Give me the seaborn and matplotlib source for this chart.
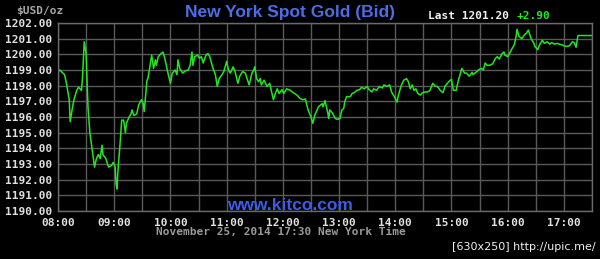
import matplotlib
matplotlib.use("Agg")
import matplotlib.pyplot as plt
import seaborn as sns
import pandas as pd
import numpy as np

times = ["08:00","08:02","08:07","08:09","08:12","08:13","08:15","08:17","08:20","08:22",
         "08:25","08:26","08:28","08:30","08:31","08:32","08:34","08:37","08:39","08:41",
         "08:43","08:45","08:47","08:48","08:51","08:54","08:57","08:59","09:01","09:02",
         "09:03","09:04","09:06","09:08","09:10","09:12","09:13","09:16","09:18","09:19",
         "09:21","09:24","09:26","09:29","09:31","09:32","09:34","09:35","09:36","09:38",
         "09:40","09:42","09:44","09:45","09:47","09:50","09:52","09:54","09:57","10:00",
         "10:02","10:05","10:07","10:08","10:10","10:13","10:16","10:19","10:21","10:23",
         "10:24","10:26","10:29","10:31","10:33","10:35","10:38","10:40","10:42","10:45",
         "10:48","10:50","10:52","10:55","10:57","11:00","11:02","11:04","11:07","11:09",
         "11:12","11:14","11:17","11:20","11:21","11:24","11:27","11:29","11:30","11:32",
         "11:34","11:36","11:37","11:40","11:43","11:46","11:48","11:50","11:52","11:54",
         "11:56","11:59","12:01","12:04","12:08","12:10","12:15","12:18","12:21","12:24",
         "12:27","12:30","12:32","12:34","12:38","12:42","12:43","12:45","12:48","12:49",
         "12:50","12:53","12:56","12:58","13:01","13:03","13:05","13:06","13:08","13:12",
         "13:14","13:16","13:19","13:22","13:24","13:27","13:30","13:32","13:35","13:37",
         "13:40","13:43","13:46","13:48","13:51","13:54","13:56","13:59","14:02","14:03",
         "14:06","14:09","14:12","14:14","14:16","14:18","14:20","14:22","14:24","14:27",
         "14:29","14:32","14:35","14:37","14:40","14:43","14:45","14:48","14:51","14:53",
         "14:57","15:00","15:02","15:05","15:07","15:11","15:14","15:16","15:19","15:22",
         "15:23","15:27","15:30","15:32","15:34","15:36","15:38","15:41","15:44","15:47",
         "15:49","15:51","15:54","15:56","15:57","16:00","16:02","16:04","16:07","16:09",
         "16:10","16:12","16:15","16:18","16:20","16:22","16:25","16:28","16:29","16:32",
         "16:34","16:37","16:39","16:42","16:45","16:47","16:50","16:53","16:55","16:58",
         "17:00","17:03","17:06","17:09","17:11","17:13","17:15","17:17","17:30"]

prices = [1198.9,1199.0,1198.7,1198.15,1197.1,1195.7,1196.45,1197.1,1197.7,1197.9,
          1197.7,1198.35,1200.8,1200.05,1198.35,1196.65,1195.0,1193.7,1192.8,1193.35,
          1193.6,1193.35,1194.2,1193.6,1193.35,1192.8,1192.9,1193.1,1192.8,1191.75,
          1191.4,1192.6,1194.1,1195.8,1195.8,1195.0,1195.6,1196.0,1196.2,1196.45,
          1196.1,1196.2,1196.75,1197.1,1196.85,1196.35,1197.7,1198.35,1198.45,1199.2,
          1199.95,1199.1,1199.65,1199.3,1199.85,1200.05,1200.15,1199.75,1198.9,1198.15,
          1198.8,1199.0,1198.7,1199.65,1199.1,1198.8,1198.95,1199.0,1199.3,1200.15,
          1199.3,1199.85,1199.95,1199.75,1199.85,1199.45,1199.95,1200.05,1199.85,1199.2,
          1198.7,1197.95,1198.45,1198.7,1198.9,1199.55,1199.0,1198.8,1199.2,1198.9,
          1198.15,1198.6,1198.9,1198.8,1198.6,1198.05,1198.8,1199.0,1199.2,1198.45,
          1198.25,1198.45,1198.05,1198.35,1197.95,1198.15,1197.6,1197.1,1197.5,1197.8,
          1197.5,1197.75,1197.5,1197.8,1197.7,1197.6,1197.4,1197.2,1197.1,1197.15,
          1196.45,1196.0,1195.6,1196.1,1196.65,1196.85,1196.65,1197.05,1196.25,1195.9,
          1196.45,1196.25,1195.9,1195.85,1195.9,1196.45,1196.55,1196.95,1197.3,1197.3,
          1197.5,1197.55,1197.7,1197.75,1197.9,1197.8,1197.95,1197.75,1197.6,1197.8,
          1197.7,1197.95,1197.85,1198.05,1197.95,1198.05,1197.6,1197.3,1196.95,1197.3,
          1197.95,1198.35,1198.45,1198.25,1197.8,1198.05,1197.7,1197.8,1197.5,1197.4,
          1197.55,1197.6,1197.6,1197.7,1198.15,1197.95,1197.95,1197.7,1197.55,1197.95,
          1198.25,1198.4,1197.7,1197.7,1198.25,1199.1,1198.8,1198.8,1198.6,1198.85,
          1198.7,1198.9,1199.05,1199.1,1199.0,1199.45,1199.3,1199.3,1199.4,1199.75,
          1199.85,1199.7,1200.05,1200.15,1199.95,1199.85,1200.05,1200.3,1200.6,1201.15,
          1201.6,1201.15,1201.0,1201.25,1201.35,1201.55,1201.0,1200.7,1200.5,1200.3,
          1200.6,1200.9,1200.7,1200.8,1200.65,1200.75,1200.65,1200.7,1200.65,1200.6,
          1200.55,1200.5,1200.55,1200.8,1200.75,1200.45,1201.2,1201.2,1201.2]

x_tick_labels = ["08:00","09:00","10:00","11:00","12:00","13:00","14:00","15:00","16:00","17:00"]
y_ticks = [1190,1191,1192,1193,1194,1195,1196,1197,1198,1199,1200,1201,1202]

title = "New York Spot Gold (Bid)"
last_text = "Last 1201.20"
change_text = "+2.90"
unit_text = "$USD/oz"
site_text = "www.kitco.com"
footer_text = "November 25, 2014 17:30 New York Time"
credit_text = "[630x250] http://upic.me/"

def to_hours(s):
    h, m = s.split(":")
    return int(h) + int(m) / 60.0

df = pd.DataFrame({"t": [to_hours(t) for t in times], "price": prices})

sns.set_theme(style="dark")
plt.rcParams["font.family"] = ["DejaVu Sans"]

fig = plt.figure(figsize=(6.0, 2.59), dpi=100, facecolor="black")
ax = fig.add_axes([58/600, 1-211/259, (592-58)/600, (211-23)/259])
ax.set_facecolor("black")

sns.lineplot(data=df, x="t", y="price", ax=ax, color="#22e622", linewidth=1.1)

ax.set_xlim(8.0, 17.5)
ax.set_ylim(1190, 1202)
xt = [to_hours(s) for s in x_tick_labels]
ax.set_xticks(xt)
ax.set_xticklabels(x_tick_labels)
ax.set_xticks([v + 0.5 for v in xt], minor=True)
ax.set_yticks(y_ticks)
ax.set_yticklabels([f"{v:.2f}" for v in y_ticks])
ax.set_xlabel("")
ax.set_ylabel("")

ax.grid(True, which="both", color="#5a5a5a", linewidth=1.0)
ax.set_axisbelow(True)
for s in ax.spines.values():
    s.set_visible(True)
    s.set_color("#6a6a6a")
    s.set_linewidth(1.0)

mono = dict(family="DejaVu Sans Mono", weight="bold", size=8)
ax.tick_params(axis="both", which="both", length=0, colors="#e6e6e6")
ax.tick_params(axis="y", pad=4)
ax.tick_params(axis="x", pad=5)
for lab in ax.get_xticklabels() + ax.get_yticklabels():
    lab.set_fontfamily("DejaVu Sans Mono")
    lab.set_fontweight("bold")
    lab.set_fontsize(8)
    lab.set_color("#e0e0e0")

fig.text(40/600, 1-11/259, unit_text, ha="center", va="center", color="#a8a8a8", **mono)
fig.text(290/600, 1-12/259, title, ha="center", va="center", color="#4b6ee6",
         family="Liberation Sans", weight="bold", size=12.5)
fig.text(428/600, 1-16/259, last_text, ha="left", va="center", color="#f0f0f0", **mono)
fig.text(517/600, 1-16/259, change_text, ha="left", va="center", color="#22e622", **mono)
fig.text(290/600, 1-205/259, site_text, ha="center", va="center", color="#3c5ce6",
         family="Liberation Sans", weight="bold", size=12.5)
fig.text(281/600, 1-232/259, footer_text, ha="center", va="center", color="#9a9a9a", **mono)
fig.text(596/600, 1-247/259, credit_text, ha="right", va="center", color="#f0f0f0",
         family="DejaVu Sans", size=8)

fig.savefig("out.png", dpi=100, facecolor="black")
